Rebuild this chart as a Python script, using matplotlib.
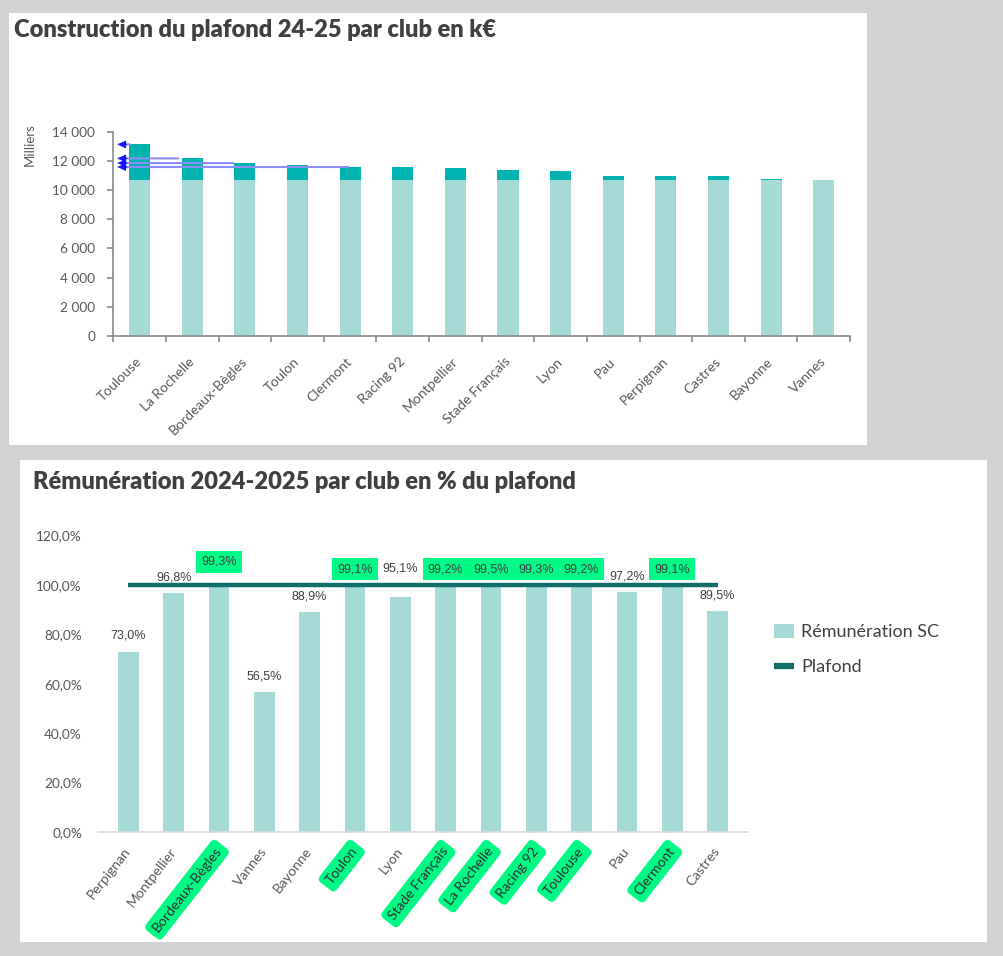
import matplotlib
matplotlib.use("Agg")
import matplotlib.pyplot as plt
from matplotlib.patches import Rectangle, Patch
from matplotlib.lines import Line2D
import numpy as np

# ---------------- data ----------------
clubs_top = ["Toulouse", "La Rochelle", "Bordeaux-Bègles", "Toulon", "Clermont",
             "Racing 92", "Montpellier", "Stade Français", "Lyon", "Pau",
             "Perpignan", "Castres", "Bayonne", "Vannes"]
plafond_base = [10700] * 14
plafond_extra = [2450, 1490, 1170, 990, 900, 900, 830, 690, 640, 290, 290, 290, 80, 0]
arrow_clubs = ["Toulouse", "La Rochelle", "Bordeaux-Bègles", "Clermont"]
top_yticks = [0, 2000, 4000, 6000, 8000, 10000, 12000, 14000]

clubs_bot = ["Perpignan", "Montpellier", "Bordeaux-Bègles", "Vannes", "Bayonne",
             "Toulon", "Lyon", "Stade Français", "La Rochelle", "Racing 92",
             "Toulouse", "Pau", "Clermont", "Castres"]
remuneration_pct = [73.0, 96.8, 99.3, 56.5, 88.9, 99.1, 95.1, 99.2, 99.5, 99.3,
                    99.2, 97.2, 99.1, 89.5]
plafond_pct = [100] * 14
highlighted = [False, False, True, False, False, True, False, True, True, True,
               True, False, True, False]
bot_yticks = [0, 20, 40, 60, 80, 100, 120]

# ---------------- style ----------------
W, H = 1004, 956
BG = "#d2d2d2"
LIGHT = "#a5dad7"
DARK = "#00b3b0"
LINE = "#0f6f6b"
GREEN = "#00fa86"
TXT = "#404040"
TICK = "#595959"

fig = plt.figure(figsize=(W / 100, H / 100), dpi=100, facecolor=BG)

def fx(px):
    return px / W

def fy(py):
    return 1 - py / H

def panel(x0, y0, x1, y1):
    fig.patches.append(Rectangle((fx(x0), fy(y1)), fx(x1) - fx(x0), fy(y0) - fy(y1),
                                 transform=fig.transFigure, facecolor="white",
                                 edgecolor="none", zorder=-5))

panel(9, 13, 867, 445)
panel(20, 460, 987, 942)

# ---------------- top chart ----------------
ax1 = fig.add_axes([fx(113.4), fy(336), (850 - 113.4) / W, (336 - 131.7) / H])
ax1.set_zorder(2)
ax1.set_facecolor("none")
x1 = np.arange(len(clubs_top))
ax1.bar(x1, plafond_base, width=0.4, color=LIGHT, zorder=2)
ax1.bar(x1, plafond_extra, bottom=plafond_base, width=0.4, color=DARK, zorder=2)
ax1.set_xlim(-0.5, len(clubs_top) - 0.5)
ax1.set_ylim(0, 14000)
for s in ["top", "right"]:
    ax1.spines[s].set_visible(False)
for s in ["left", "bottom"]:
    ax1.spines[s].set_color("#8a8a8a")
    ax1.spines[s].set_linewidth(1.2)
ax1.set_yticks(top_yticks)
ax1.set_yticklabels([f"{v:,}".replace(",", " ") for v in top_yticks],
                    fontsize=9.8, family="Lato", color=TICK)
ax1.tick_params(axis="y", length=4, width=1.2, color="#8a8a8a", pad=9)
ax1.set_xticks(x1)
ax1.set_xticklabels(clubs_top, rotation=45, ha="right", va="center",
                    rotation_mode="anchor", fontsize=10, family="Lato", color=TICK)
ax1.tick_params(axis="x", which="major", length=0, pad=17)
ax1.set_xticks(np.arange(-0.5, len(clubs_top)), minor=True)
ax1.tick_params(axis="x", which="minor", length=4, width=1.2, color="#8a8a8a")
fig.text(fx(30), fy(145), "Milliers", rotation=90, ha="center", va="center",
         fontsize=9.5, family="Lato", color=TICK)

# hand-drawn arrows from bar tops to the axis
arrow_start_dx = {"Toulouse": -0.13, "La Rochelle": -0.22, "Bordeaux-Bègles": -0.17, "Clermont": 0.02}
for name in arrow_clubs:
    i = clubs_top.index(name)
    yv = plafond_base[i] + plafond_extra[i] - 20
    ax1.annotate("", xy=(-0.46, yv), xytext=(i + arrow_start_dx[name], yv),
                 arrowprops=dict(arrowstyle="-", color="#8c8cf5", lw=1.5),
                 zorder=5, annotation_clip=False)
    ax1.annotate("", xy=(-0.47, yv), xytext=(-0.2, yv),
                 arrowprops=dict(arrowstyle="-|>", color="#1414ff", lw=1.0,
                                 mutation_scale=11),
                 zorder=6, annotation_clip=False)

fig.text(fx(14), fy(30), "Construction du plafond 24-25 par club en k€",
         ha="left", va="center", fontsize=17, fontweight="heavy",
         family="Lato", color=TXT)

# ---------------- bottom chart ----------------
ax2 = fig.add_axes([fx(98), fy(832), (748 - 98) / W, (832 - 535.6) / H])
ax2.set_zorder(2)
ax2.set_facecolor("none")
x2 = np.arange(len(clubs_bot))
ax2.bar(x2, remuneration_pct, width=0.46, color=LIGHT, zorder=2,
        label="Rémunération SC")
ax2.plot(x2, plafond_pct, color=LINE, lw=3.2, solid_capstyle="butt", zorder=3,
         label="Plafond")
ax2.set_xlim(-0.67, len(clubs_bot) - 0.33)
ax2.set_ylim(0, 120)
for s in ["top", "right", "left"]:
    ax2.spines[s].set_visible(False)
ax2.spines["bottom"].set_color("#d9d9d9")
ax2.spines["bottom"].set_linewidth(1.2)
ax2.set_yticks(bot_yticks)
ax2.set_yticklabels([f"{v:.1f}%".replace(".", ",") for v in bot_yticks],
                    fontsize=9.8, family="Lato", color=TICK)
ax2.tick_params(axis="y", length=0, pad=11.5)
ax2.set_xticks(x2)
ax2.set_xticklabels(clubs_bot, rotation=52, ha="right", va="center",
                    rotation_mode="anchor", fontsize=10, family="Lato", color=TICK)
ax2.tick_params(axis="x", length=0, pad=12)
for lbl, hl in zip(ax2.get_xticklabels(), highlighted):
    if hl:
        lbl.set_bbox(dict(boxstyle="round,pad=0.35", fc=GREEN, ec="none"))
        lbl.set_color("#303030")

for i, (v, hl) in enumerate(zip(remuneration_pct, highlighted)):
    if v >= 99:
        yl = 106.3
    elif v >= 95 and v < 96:
        yl = 106.8
    else:
        yl = v + 6.4
    if clubs_bot[i] == "Bordeaux-Bègles":
        yl += 3.2
    txt = f"{v:.1f}%".replace(".", ",")
    kw = {}
    if hl:
        kw["bbox"] = dict(boxstyle="square,pad=0.4", fc=GREEN, ec="none")
    ax2.text(i, yl, txt, ha="center", va="center", fontsize=9,
             family="Liberation Sans", color=TXT, zorder=4, **kw)

handles = [Patch(facecolor=LIGHT, edgecolor="none"),
           Line2D([], [], color=LINE, lw=4.5, solid_capstyle="butt")]
fig.legend(handles, ["Rémunération SC", "Plafond"], loc="upper left",
           bbox_to_anchor=(fx(774), fy(624)), bbox_transform=fig.transFigure,
           frameon=False, borderpad=0, borderaxespad=0, handlelength=1.1,
           handleheight=0.8, handletextpad=0.4, labelspacing=1.05,
           prop=dict(family="Lato", size=13), labelcolor=TXT)

fig.text(fx(33), fy(482), "Rémunération 2024-2025 par club en % du plafond",
         ha="left", va="center", fontsize=17, fontweight="heavy",
         family="Lato", color=TXT)

fig.savefig("out.png", dpi=100, facecolor=BG)
